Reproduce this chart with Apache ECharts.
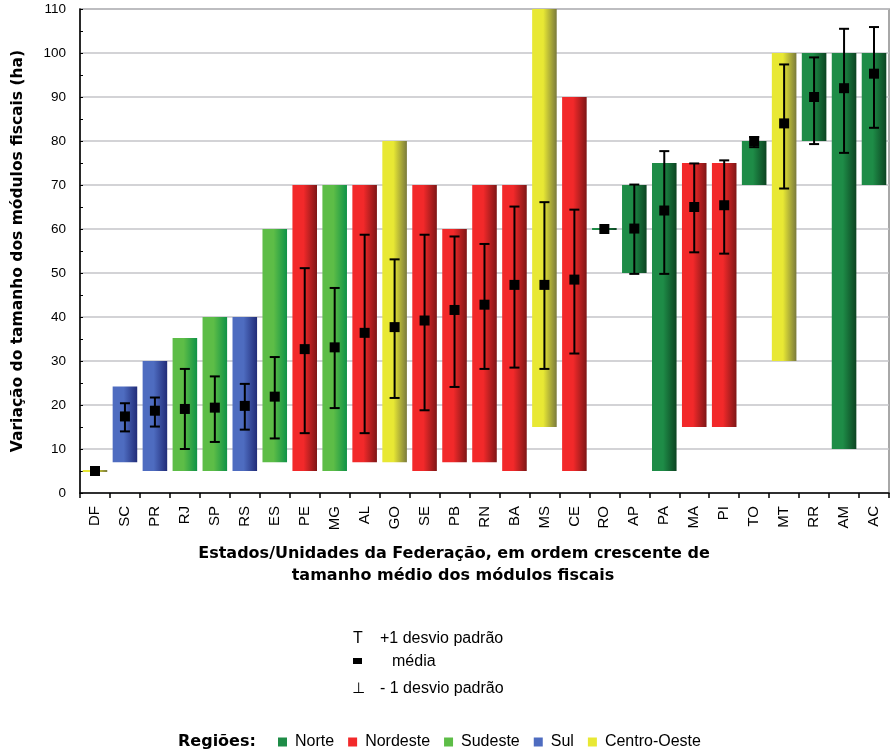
<!DOCTYPE html>
<html>
<head>
<meta charset="utf-8">
<script src="https://cdn.jsdelivr.net/npm/echarts@6/dist/echarts.min.js"></script>
<style>html,body{margin:0;padding:0;background:#fff}#c{width:890px;height:752px}</style>
</head>
<body>
<div id="c"></div>
<script>
const categories = ['DF','SC','PR','RJ','SP','RS','ES','PE','MG','AL','GO','SE','PB','RN','BA','MS','CE','RO','AP','PA','MA','PI','TO','MT','RR','AM','AC'];
const regions = ['Norte','Nordeste','Sudeste','Sul','Centro-Oeste'];
const stateRegion = [4,3,3,2,2,3,2,1,2,1,4,1,1,1,1,4,1,0,0,0,1,1,0,4,0,0,0];
const barLow  = [5,7,5,5,5,5,7,5,5,7,7,5,7,7,5,15,5,60,50,5,15,15,70,30,80,10,70];
const barHigh = [5,24.2,30,35.2,40,40,60,70,70,70,80,70,60,70,70,110,90,60,70,75,75,75,80,100,100,100,100];
const meanVal = [5,17.4,18.7,19.1,19.4,19.8,21.9,32.7,33.1,36.4,37.7,39.2,41.6,42.8,47.3,47.3,48.5,60,60.1,64.2,65,65.4,80,84,90,92,95.3];
const sdUpper = ['-',20.4,21.7,28.2,26.5,24.8,30.9,51.1,46.6,58.7,53.1,58.7,58.3,56.6,65.1,66.1,64.4,'-',70.1,77.7,74.9,75.6,80.9,97.4,99,105.5,105.9];
const sdLower = ['-',14,15.1,10,11.6,14.4,12.4,13.6,19.3,13.6,21.6,18.8,24.1,28.2,28.5,28.2,31.7,'-',49.8,49.8,54.7,54.4,78.6,69.2,79.3,77.3,83];
const yTicks = [0,110,10];
const xTitle = ['Estados/Unidades da Federação, em ordem crescente de', 'tamanho médio dos módulos fiscais'];

const regionLight = ['#1e8c47','#f2292a','#5dbd47','#4e6cc0','#e8e834'];
const regionDark  = ['#0c4422','#7e1616','#0f9247','#212c78','#7a7a3c'];

function grad(r){
  return new echarts.graphic.LinearGradient(0,0,1,0,[
    {offset:0,color:regionLight[r]},{offset:0.45,color:regionLight[r]},{offset:1,color:regionDark[r]}]);
}

const regionSeries = regions.map((name, r) => ({
  name: name,
  type: 'custom',
  itemStyle: {color: regionLight[r]},
  encode: {x: 0, y: [1, 2]},
  data: categories.map((c, i) => [i, barLow[i], barHigh[i]]).filter((d, i) => stateRegion[i] === r),
  renderItem: function(params, api){
    const i = api.value(0);
    const pLow = api.coord([i, api.value(1)]);
    const pHigh = api.coord([i, api.value(2)]);
    const w = api.size([1, 0])[0] * 0.82;
    let h = pLow[1] - pHigh[1];
    let y = pHigh[1];
    if (h < 2) { y = pHigh[1] - 1; h = 2; }
    return {type:'rect', shape:{x: pLow[0] - w/2, y: y, width: w, height: h}, style:{fill: grad(r)}};
  }
}));

const errSeries = {
  name: 'erro',
  type: 'custom',
  z: 5,
  encode: {x: 0, y: [1, 2, 3]},
  data: categories.map((c, i) => [i, meanVal[i], sdUpper[i], sdLower[i]]),
  renderItem: function(params, api){
    const i = api.value(0);
    const pm = api.coord([i, api.value(1)]);
    const children = [];
    const up = api.value(2), lo = api.value(3);
    if (!isNaN(up) && !isNaN(lo)) {
      const pu = api.coord([i, up]);
      const pl = api.coord([i, lo]);
      const st = {stroke:'#000', lineWidth:2};
      children.push({type:'line', shape:{x1:pm[0], y1:pu[1], x2:pm[0], y2:pl[1]}, style:st});
      children.push({type:'line', shape:{x1:pm[0]-5, y1:pu[1], x2:pm[0]+5, y2:pu[1]}, style:st});
      children.push({type:'line', shape:{x1:pm[0]-5, y1:pl[1], x2:pm[0]+5, y2:pl[1]}, style:st});
    }
    children.push({type:'rect', shape:{x:pm[0]-5, y:pm[1]-5, width:10, height:10}, style:{fill:'#000'}});
    return {type:'group', children: children};
  }
};

const chart = echarts.init(document.getElementById('c'), null, {renderer:'canvas'});
const tf = 'Liberation Sans, Arial, sans-serif';
chart.setOption({
  animation: false,
  backgroundColor: '#fff',
  grid: {left: 80, right: 1, top: 9, bottom: 259, show: true, borderColor: '#8c8c8c', borderWidth: 1.5, backgroundColor: 'transparent'},
  xAxis: {
    type: 'category',
    data: categories,
    boundaryGap: true,
    axisLine: {lineStyle: {color: '#000', width: 1.5}},
    axisTick: {show: true, length: 5, lineStyle: {color: '#000', width: 1.5}},
    axisLabel: {rotate: 90, interval: 0, fontFamily: tf, fontSize: 15, color: '#000', margin: 13}
  },
  yAxis: {
    type: 'value',
    min: yTicks[0], max: yTicks[1], interval: yTicks[2],
    axisLine: {show: true, lineStyle: {color: '#000', width: 1.5}},
    axisTick: {show: true, inside: true, length: 3, lineStyle: {color: '#000'}},
    minorTick: {show: true, splitNumber: 2, length: 3, lineStyle: {color: '#000'}},
    splitLine: {show: true, lineStyle: {color: '#c4c4c8', width: 1.5}},
    axisLabel: {fontFamily: tf, fontSize: 13.5, color: '#000', margin: 14},
    name: 'Variação do tamanho dos módulos fiscais (ha)',
    nameLocation: 'middle',
    nameRotate: 90,
    nameGap: 54,
    nameTextStyle: {fontFamily: 'DejaVu Sans', fontWeight: 'bold', fontSize: 15.5, color: '#000'}
  },
  legend: {
    data: regions,
    left: 278, top: 734, padding: 0,
    icon: 'rect', itemWidth: 9, itemHeight: 9, itemGap: 14,
    textStyle: {fontFamily: tf, fontSize: 16, color: '#000', lineHeight: 16, padding: [0,0,0,3]}
  },
  graphic: [
    {type:'text', x: 454, y: 554, style:{text: xTitle[0], font:'bold 16px "DejaVu Sans"', fill:'#000', align:'center', verticalAlign:'middle'}},
    {type:'text', x: 453, y: 576, style:{text: xTitle[1], font:'bold 16px "DejaVu Sans"', fill:'#000', align:'center', verticalAlign:'middle'}},
    {type:'text', x: 178, y: 742, style:{text:'Regiões:', font:'bold 16px "DejaVu Sans"', fill:'#000', verticalAlign:'middle'}},
    {type:'text', x: 353, y: 639, style:{text:'T', font:'16px "Liberation Sans"', fill:'#000', verticalAlign:'middle'}},
    {type:'text', x: 380, y: 639, style:{text:'+1 desvio padrão', font:'16px "Liberation Sans"', fill:'#000', verticalAlign:'middle'}},
    {type:'rect', x: 353, y: 658, shape:{width:9, height:6}, style:{fill:'#000'}},
    {type:'text', x: 392, y: 662, style:{text:'média', font:'16px "Liberation Sans"', fill:'#000', verticalAlign:'middle'}},
    {type:'text', x: 352, y: 689, style:{text:'⊥', font:'15px "DejaVu Sans"', fill:'#000', verticalAlign:'middle'}},
    {type:'text', x: 380, y: 689, style:{text:'- 1 desvio padrão', font:'16px "Liberation Sans"', fill:'#000', verticalAlign:'middle'}}
  ],
  series: regionSeries.concat([errSeries])
});
</script>
</body>
</html>
